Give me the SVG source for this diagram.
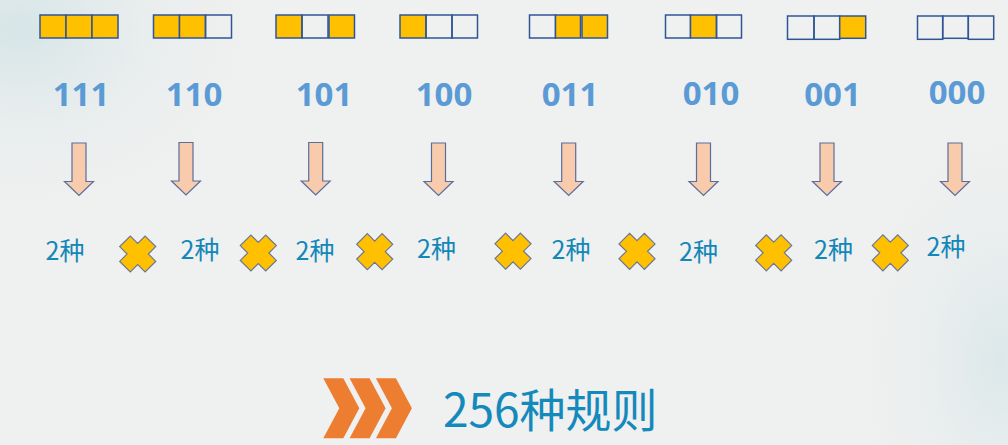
<svg xmlns="http://www.w3.org/2000/svg" width="1008" height="445" viewBox="0 0 1008 445">
<defs>
<radialGradient id="bgTL" cx="0" cy="0" r="1" gradientUnits="userSpaceOnUse" gradientTransform="translate(20 30) scale(260 200)">
<stop offset="0" stop-color="#D3E4E6" stop-opacity="0.9"/>
<stop offset="1" stop-color="#EFF0F0" stop-opacity="0"/>
</radialGradient>
<radialGradient id="bgR" cx="0" cy="0" r="1" gradientUnits="userSpaceOnUse" gradientTransform="translate(1000 360) scale(160 260)">
<stop offset="0" stop-color="#D6E6E8" stop-opacity="0.8"/>
<stop offset="1" stop-color="#EFF0F0" stop-opacity="0"/>
</radialGradient>
<polygon id="arrow" points="-7,0 7,0 7,38.5 14.5,38.5 0,52.5 -14.5,38.5 -7,38.5"/>
<polygon id="cross" points="0,-10.6 7.4,-18 18,-7.4 10.6,0 18,7.4 7.4,18 0,10.6 -7.4,18 -18,7.4 -10.6,0 -18,-7.4 -7.4,-18"/>
<polygon id="chev" points="0,0 20,0 36,30 20,60 0,60 16,30"/>
</defs>
<style>
.on{fill:#FFC000;stroke:#2F5597;stroke-width:1.5}
.off{fill:none;stroke:#2F5597;stroke-width:1.5}
.code{font-family:"Open Sans","Liberation Sans",sans-serif;font-weight:700;font-size:33px;fill:#5B9BD5;text-anchor:middle}
.arr{fill:#F8CBAD;stroke:#5A6E9C;stroke-width:1.2}
.x{fill:#FFC000;stroke:#6A7796;stroke-width:1.2}
.kind{font-family:"Noto Sans CJK SC","Noto Sans",sans-serif;font-size:25px;fill:#1287B8}
.title{font-family:"Noto Sans CJK SC","Noto Sans",sans-serif;font-size:46px;fill:#1489BC}
.chev{fill:#ED7D31}
</style>
<rect width="1008" height="445" fill="#EFF0F0"/>
<rect width="1008" height="445" fill="url(#bgTL)"/>
<rect width="1008" height="445" fill="url(#bgR)"/>

<g id="node-111">
<rect class="on" x="40" y="15" width="26" height="23"/><rect class="on" x="66" y="15" width="26" height="23"/><rect class="on" x="92" y="15" width="26" height="23"/>
<text class="code" x="81" y="105.5">111</text>
</g>
<g id="node-110">
<rect class="on" x="153.5" y="15" width="26" height="23"/><rect class="on" x="179.5" y="15" width="26" height="23"/><rect class="off" x="205.5" y="15" width="26" height="23"/>
<text class="code" x="194" y="105.5">110</text>
</g>
<g id="node-101">
<rect class="on" x="276" y="15" width="26" height="23"/><rect class="off" x="302" y="15" width="26" height="23"/><rect class="on" x="329" y="15" width="25.5" height="23"/>
<text class="code" x="324" y="105.5">101</text>
</g>
<g id="node-100">
<rect class="on" x="400" y="15" width="26" height="23"/><rect class="off" x="426" y="15" width="26" height="23"/><rect class="off" x="452" y="15" width="25.5" height="23"/>
<text class="code" x="444" y="106">100</text>
</g>
<g id="node-011">
<rect class="off" x="529.5" y="15" width="26" height="23"/><rect class="on" x="555.5" y="15" width="25" height="23"/><rect class="on" x="582" y="15" width="25.5" height="23"/>
<text class="code" x="570" y="106">011</text>
</g>
<g id="node-010">
<rect class="off" x="665.5" y="15" width="25" height="23"/><rect class="on" x="690.5" y="15" width="26" height="23"/><rect class="off" x="716.5" y="15" width="25" height="23"/>
<text class="code" x="711" y="104.5">010</text>
</g>
<g id="node-001">
<rect class="off" x="787.5" y="16" width="26.5" height="23.3"/><rect class="off" x="814" y="16" width="25.7" height="23.3"/><rect class="on" x="839.7" y="16" width="26" height="22.3"/>
<text class="code" x="832.5" y="106">001</text>
</g>
<g id="node-000">
<rect class="off" x="917.5" y="16" width="25.2" height="23.3"/><rect class="off" x="942.7" y="16" width="25.6" height="22.3"/><rect class="off" x="968.3" y="16" width="25.4" height="23.3"/>
<text class="code" x="957" y="103.5">000</text>
</g>

<g id="connectors">
<use href="#arrow" class="arr" x="79" y="143"/>
<use href="#arrow" class="arr" x="186" y="142.5"/>
<use href="#arrow" class="arr" x="315.7" y="142.5"/>
<use href="#arrow" class="arr" x="438.5" y="143"/>
<use href="#arrow" class="arr" x="568.7" y="143"/>
<use href="#arrow" class="arr" x="703.5" y="143"/>
<use href="#arrow" class="arr" x="827" y="143"/>
<use href="#arrow" class="arr" x="955" y="143"/>
</g>

<g id="node-kinds">
<text class="kind" x="45.5" y="259.5">2种</text>
<text class="kind" x="180.5" y="258.5">2种</text>
<text class="kind" x="295.5" y="260">2种</text>
<text class="kind" x="417" y="257.5">2种</text>
<text class="kind" x="551.5" y="258.5">2种</text>
<text class="kind" x="679" y="260.5">2种</text>
<text class="kind" x="814" y="259">2种</text>
<text class="kind" x="926.5" y="256">2种</text>
</g>

<g id="node-crosses">
<use href="#cross" class="x" x="137.7" y="254"/>
<use href="#cross" class="x" x="258.3" y="253"/>
<use href="#cross" class="x" x="374.7" y="251.7"/>
<use href="#cross" class="x" x="513" y="251.2"/>
<use href="#cross" class="x" x="637" y="251.3"/>
<use href="#cross" class="x" x="773.7" y="252.8"/>
<use href="#cross" class="x" x="890.3" y="252.8"/>
</g>

<g id="node-title">
<use href="#chev" class="chev" x="323.3" y="378.3"/>
<use href="#chev" class="chev" x="349.6" y="378.3"/>
<use href="#chev" class="chev" x="375.9" y="378.3"/>
<text class="title" x="443" y="427">256种规则</text>
</g>
</svg>
